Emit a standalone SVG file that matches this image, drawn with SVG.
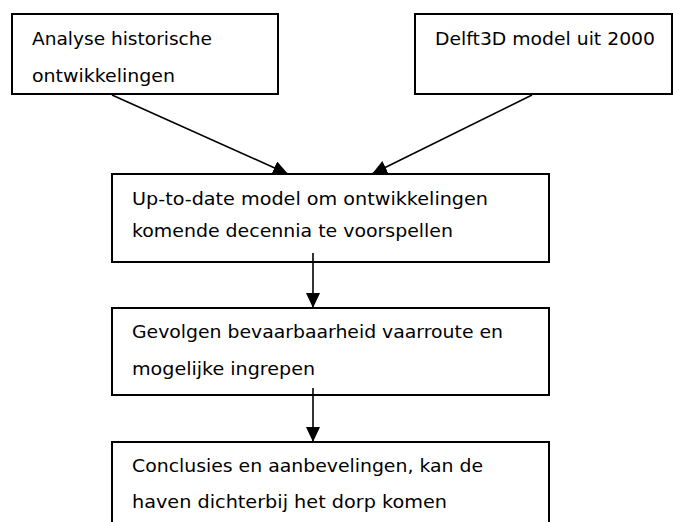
<svg xmlns="http://www.w3.org/2000/svg" width="673" height="522" viewBox="0 0 673 522">
<defs>
<style>
.box{fill:#fff;stroke:#000;stroke-width:2}
.t{font-family:"DejaVu Sans","Liberation Sans",sans-serif;font-size:17.5px;fill:#000}
.c{stroke:#000;stroke-width:1.6;fill:none}
</style>
<marker id="ah" viewBox="0 0 15 14" refX="15" refY="7" markerWidth="15" markerHeight="14" markerUnits="userSpaceOnUse" orient="auto">
<path d="M0,0 L15,7 L0,14 Z" fill="#000"/>
</marker>
</defs>
<rect width="673" height="522" fill="#fff"/>
<g id="n1">
<rect class="box" x="12" y="14" width="266" height="80"/>
<text class="t" x="32" y="45" textLength="180" lengthAdjust="spacingAndGlyphs">Analyse historische</text>
<text class="t" x="32" y="82" textLength="143" lengthAdjust="spacingAndGlyphs">ontwikkelingen</text>
</g>
<g id="n2">
<rect class="box" x="415" y="14" width="257" height="80"/>
<text class="t" x="435" y="45" textLength="220" lengthAdjust="spacingAndGlyphs">Delft3D model uit 2000</text>
</g>
<g id="n3">
<rect class="box" x="112" y="174" width="437" height="88"/>
<text class="t" x="132" y="205" textLength="356" lengthAdjust="spacingAndGlyphs">Up-to-date model om ontwikkelingen</text>
<text class="t" x="132" y="237" textLength="321" lengthAdjust="spacingAndGlyphs">komende decennia te voorspellen</text>
</g>
<g id="n4">
<rect class="box" x="112" y="308" width="437" height="87"/>
<text class="t" x="132" y="338" textLength="371" lengthAdjust="spacingAndGlyphs">Gevolgen bevaarbaarheid vaarroute en</text>
<text class="t" x="132" y="375" textLength="183" lengthAdjust="spacingAndGlyphs">mogelijke ingrepen</text>
</g>
<g id="n5">
<rect class="box" x="112" y="442" width="437" height="90"/>
<text class="t" x="132" y="472" textLength="351" lengthAdjust="spacingAndGlyphs">Conclusies en aanbevelingen, kan de</text>
<text class="t" x="132" y="508" textLength="315" lengthAdjust="spacingAndGlyphs">haven dichterbij het dorp komen</text>
</g>
<g id="connectors">
<line class="c" x1="112" y1="95" x2="288" y2="174" marker-end="url(#ah)"/>
<line class="c" x1="532" y1="95" x2="372" y2="174" marker-end="url(#ah)"/>
<line class="c" x1="313" y1="253" x2="313" y2="308" marker-end="url(#ah)"/>
<line class="c" x1="313" y1="388" x2="313" y2="442" marker-end="url(#ah)"/>
</g>
</svg>
